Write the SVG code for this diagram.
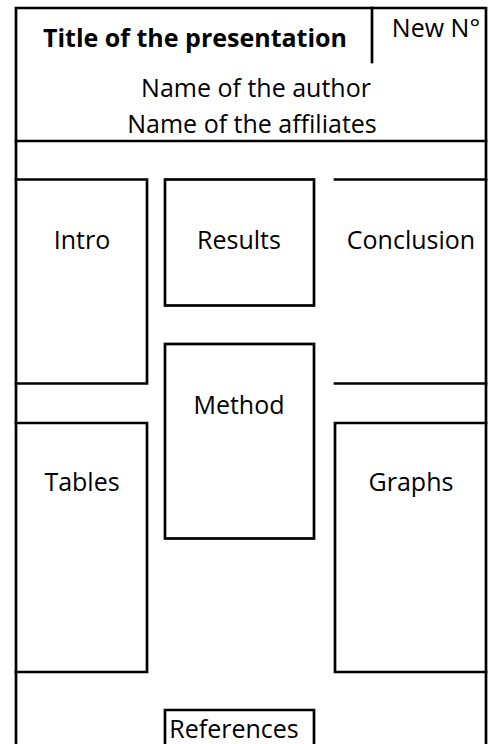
<svg xmlns="http://www.w3.org/2000/svg" width="490" height="744" viewBox="0 0 490 744">
<style>
.ln{fill:none;stroke:#000;stroke-width:2.7;stroke-linecap:square}
.t{font-family:"Open Sans","Liberation Sans",sans-serif;font-size:25px;fill:#000;text-anchor:middle}
.b{font-weight:bold}
</style>
<rect width="490" height="744" fill="#fff"/>
<g id="frame">
<path class="ln" d="M16,760V8H486V760"/>
<path class="ln" d="M372,8V62"/>
<path class="ln" d="M16,141H486"/>
</g>
<g id="title"><text class="t b" x="195" y="47" font-size="24">Title of the presentation</text></g>
<g id="number"><text class="t" x="436" y="37">New N°</text></g>
<g id="author"><text class="t" x="256" y="97">Name of the author</text></g>
<g id="affiliates"><text class="t" x="252" y="133">Name of the affiliates</text></g>
<g id="intro"><path class="ln" d="M16,179.5H147V383.5H16"/><text class="t" x="82" y="249">Intro</text></g>
<g id="results"><rect class="ln" x="165" y="179.5" width="149" height="126"/><text class="t" x="239" y="249">Results</text></g>
<g id="conclusion"><path class="ln" d="M335,179.5H486M335,383.5H486"/><text class="t" x="411" y="249">Conclusion</text></g>
<g id="method"><rect class="ln" x="165" y="344" width="149" height="194.5"/><text class="t" x="239" y="414">Method</text></g>
<g id="tables"><path class="ln" d="M16,423H147V672H16"/><text class="t" x="82" y="491">Tables</text></g>
<g id="graphs"><path class="ln" d="M486,423H335V672H486"/><text class="t" x="411" y="491">Graphs</text></g>
<g id="references"><path class="ln" d="M165,760V710H314V760"/><text class="t" x="234" y="738">References</text></g>
<g id="connectors"/>
</svg>
